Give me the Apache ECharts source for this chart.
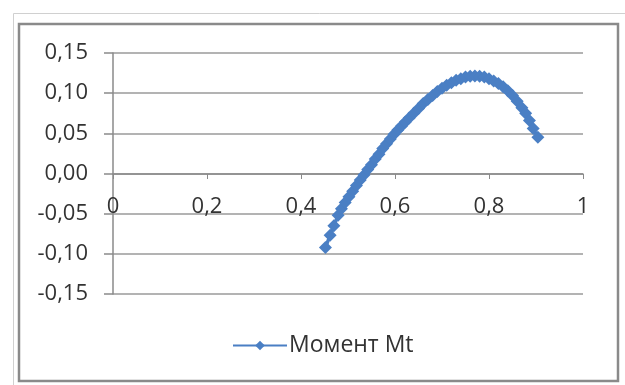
<!DOCTYPE html>
<html>
<head>
<meta charset="utf-8">
<script src="https://cdn.jsdelivr.net/npm/echarts@6/dist/echarts.min.js"></script>
<style>
html,body{margin:0;padding:0;background:#fff;}
#c{width:625px;height:385px;}
</style>
</head>
<body>
<div id="c"></div>
<script>
var seriesName = 'Момент Mt';
var xValues = [0.452,0.462,0.470,0.479,0.486,0.494,0.502,0.510,0.518,0.526,0.534,0.542,0.550,0.558,0.566,0.574,0.582,0.590,0.598,0.606,0.614,0.622,0.630,0.640,0.650,0.660,0.670,0.680,0.690,0.700,0.710,0.720,0.730,0.740,0.750,0.760,0.770,0.780,0.790,0.800,0.810,0.820,0.830,0.840,0.850,0.860,0.870,0.878,0.886,0.894,0.904];
var yValues = [-0.092,-0.077,-0.065,-0.052,-0.044,-0.036,-0.029,-0.022,-0.015,-0.008,-0.002,0.005,0.011,0.018,0.024,0.031,0.037,0.043,0.049,0.054,0.059,0.064,0.069,0.075,0.081,0.087,0.092,0.097,0.102,0.106,0.110,0.113,0.116,0.118,0.120,0.121,0.1215,0.121,0.120,0.118,0.115,0.112,0.108,0.103,0.097,0.090,0.082,0.075,0.066,0.056,0.045];
var xTicks = [0, 0.2, 0.4, 0.6, 0.8, 1];
var yTicks = [-0.15, -0.10, -0.05, 0.00, 0.05, 0.10, 0.15];

var data = xValues.map(function(x, i){ return [x, yValues[i]]; });
var chart = echarts.init(document.getElementById('c'), null, {renderer:'canvas'});
var font = '"Open Sans", sans-serif';
chart.setOption({
  animation: false,
  backgroundColor: '#ffffff',
  grid: {left: 113, right: 42, top: 53, bottom: 91, containLabel: false},
  graphic: [
    {type:'rect', shape:{x:13.5, y:13.5, width:640, height:400}, style:{fill:'none', stroke:'#d0d0d0', lineWidth:1}, z:-1},
    {type:'rect', shape:{x:19, y:24, width:599, height:357}, style:{fill:'#fff', stroke:'#8a8a8a', lineWidth:2.5}, z:-1}
  ],
  xAxis: {
    type: 'value', min: xTicks[0], max: xTicks[xTicks.length-1], interval: 0.2,
    position: 'bottom', offset: -120,
    axisLine: {show: true, onZero: false, lineStyle: {color: '#8a8a8a', width: 1.5}},
    axisTick: {show: true, length: 5, lineStyle: {color: '#8a8a8a'}},
    splitLine: {show: false},
    axisLabel: {margin: 22, color: '#333333', fontSize: 22, fontFamily: font,
      formatter: function(v){ return String(Math.round(v*10)/10).replace('.', ','); }}
  },
  yAxis: {
    type: 'value', min: yTicks[0], max: yTicks[yTicks.length-1], interval: 0.05,
    axisLine: {show: true, onZero: false, lineStyle: {color: '#8a8a8a', width: 1.5}},
    axisTick: {show: true, length: 9, lineStyle: {color: '#8a8a8a', width: 1.5}},
    splitLine: {show: true, lineStyle: {color: '#9a9a9a', width: 1.5}},
    axisLabel: {margin: 25, color: '#333333', fontSize: 22, fontFamily: font,
      formatter: function(v){ return v.toFixed(2).replace('.', ','); }}
  },
  legend: {
    bottom: 23, left: 227,
    itemWidth: 54, itemHeight: 12, itemGap: 10,
    textStyle: {color: '#333333', fontSize: 23, fontFamily: font, padding:[0,0,0,-3]},
    data: [seriesName]
  },
  series: [{
    name: seriesName, type: 'line', data: data,
    symbol: 'diamond', symbolSize: 13, showAllSymbol: true,
    lineStyle: {color: '#4a7fc4', width: 3.5},
    itemStyle: {color: '#4a7fc4'}
  }]
});
</script>
</body>
</html>
